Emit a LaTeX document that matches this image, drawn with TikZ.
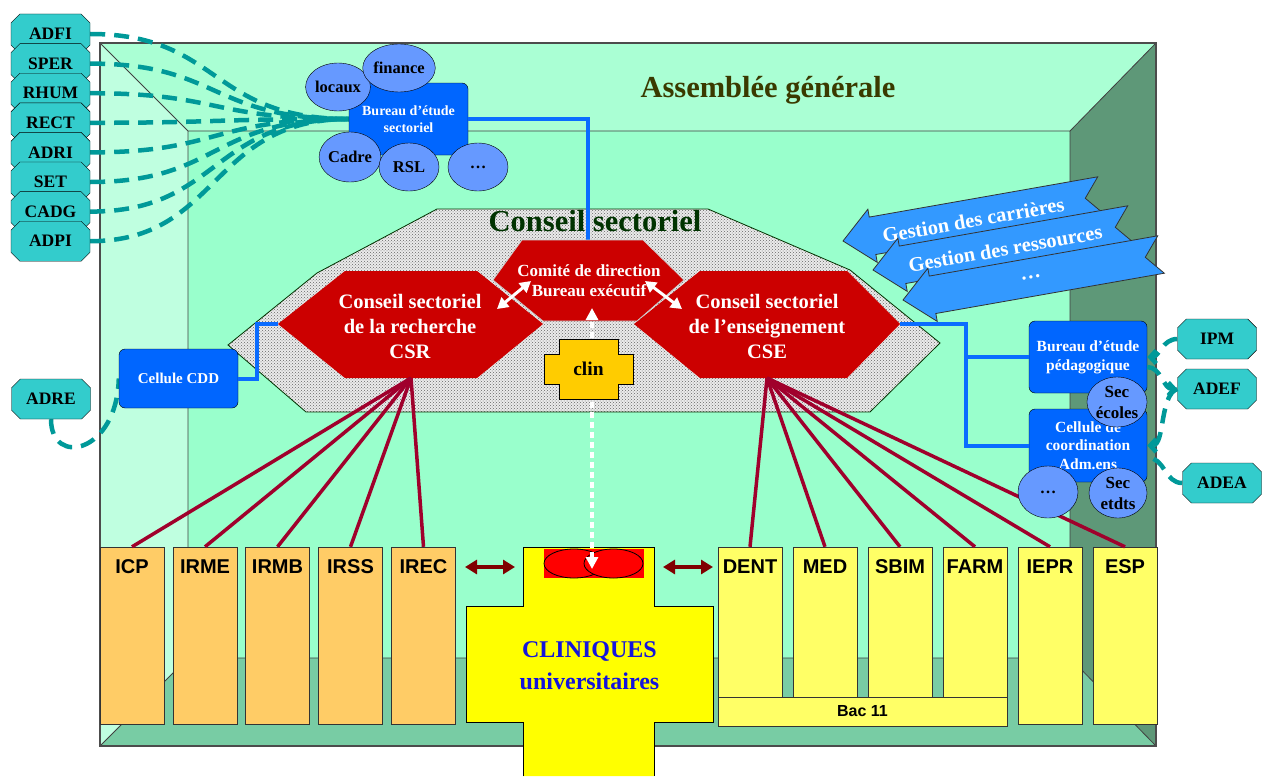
\documentclass[tikz,border=0pt]{standalone}
\usepackage{fontspec}
\setmainfont{Liberation Serif}
\newfontfamily\arialfont{Liberation Sans}
\usetikzlibrary{shapes.geometric,shapes.misc,arrows.meta,patterns}
\definecolor{ceilc}{HTML}{AAFFD4}
\definecolor{lwallc}{HTML}{BFFFE0}
\definecolor{backc}{HTML}{99FFCC}
\definecolor{floorc}{HTML}{78CCA4}
\definecolor{rwallc}{HTML}{5E9878}
\definecolor{agc}{HTML}{3A3A00}
\definecolor{csc}{HTML}{003300}
\definecolor{redc}{HTML}{CC0000}
\definecolor{bluec}{HTML}{0066FF}
\definecolor{lbluec}{HTML}{6699FF}
\definecolor{blinec}{HTML}{0A6CFF}
\definecolor{tealc}{HTML}{009999}
\definecolor{octc}{HTML}{33CCCC}
\definecolor{garc}{HTML}{3399FF}
\definecolor{crimc}{HTML}{A0002C}
\definecolor{drc}{HTML}{800000}
\definecolor{obc}{HTML}{FFCC66}
\definecolor{ybc}{HTML}{FFFF66}
\definecolor{clinc}{HTML}{FFCC00}
\definecolor{crossc}{HTML}{FFFF00}
\definecolor{cltxt}{HTML}{1414DC}
\pgfdeclarelayer{bg}
\pgfdeclarelayer{mid}
\pgfsetlayers{bg,mid,main}
\begin{document}
\begin{tikzpicture}[x=1pt,y=-1pt,
  blueline/.style={draw=blinec, line width=4pt},
  tdash/.style={draw=tealc, line width=4.5pt, dash pattern=on 15pt off 9pt},
  oct/.style={chamfered rectangle, chamfered rectangle xsep=10pt, draw=black, fill=octc,
    minimum width=79pt, minimum height=40pt, inner sep=0pt, font=\bfseries\fontsize{17.5}{17.5}\selectfont},
  bbox/.style={rectangle, rounded corners=6pt, draw=black, fill=bluec, text=white, align=center,
    inner sep=0pt, font=\bfseries\fontsize{14}{17}\selectfont},
  bell/.style={ellipse, draw=black, fill=lbluec, inner sep=0pt, minimum width=59pt, minimum height=48pt,
    align=center, font=\bfseries\fontsize{16.5}{20}\selectfont},
  whitetxt/.style={text=white, align=center, font=\bfseries\fontsize{20.5}{25}\selectfont},
  obox/.style={draw=black!80, fill=obc, minimum width=64pt, minimum height=177pt, inner sep=0pt},
  ybox/.style={draw=black!80, fill=ybc, minimum width=64pt, inner sep=0pt},
  boxlbl/.style={font=\arialfont\bfseries\fontsize{20}{20}\selectfont},
  crim/.style={draw=crimc, line width=3.5pt},
  drarr/.style={draw=drc, line width=4pt, {Triangle[length=12pt,width=14pt]}-{Triangle[length=12pt,width=14pt]}},
  warr/.style={draw=white, line width=3pt, {Triangle[length=11pt,width=12pt]}-{Triangle[length=11pt,width=12pt]}},
  garrow/.style={fill=garc, draw=black!80, line width=0.8pt},
  gtxt/.style={text=white, font=\bfseries\fontsize{20.5}{20.5}\selectfont, rotate=10},
  barb/.style={-{Straight Barb[length=6pt,width=13pt]}}
]
\useasboundingbox (0,0) rectangle (1263,776);

\begin{pgfonlayer}{bg}
\fill[ceilc] (100,43) -- (1156,43) -- (1070,131) -- (188,131) -- cycle;
\fill[lwallc] (100,43) -- (188,131) -- (188,658) -- (100,746) -- cycle;
\fill[rwallc] (1156,43) -- (1156,746) -- (1070,658) -- (1070,131) -- cycle;
\fill[floorc] (188,658) -- (1070,658) -- (1156,746) -- (100,746) -- cycle;
\fill[backc] (188,131) rectangle (1070,658);
\draw[black!75, line width=0.8pt] (188,131) rectangle (1070,658)
  (100,43) -- (188,131) (1156,43) -- (1070,131) (100,746) -- (188,658) (1156,746) -- (1070,658);
\draw[black!70, line width=1.6pt] (100,43) rectangle (1156,746);
\path[fill=black!8] (437,209) -- (708,209) -- (850,270) -- (940,343) -- (870,412) -- (306,412) -- (228,345) -- (317,273) -- cycle;
\path[pattern=crosshatch dots, pattern color=black!60] (437,209) -- (708,209) -- (850,270) -- (940,343) -- (870,412) -- (306,412) -- (228,345) -- (317,273) -- cycle;
\draw[csc, line width=0.8pt] (437,209) -- (708,209) -- (850,270) -- (940,343) -- (870,412) -- (306,412) -- (228,345) -- (317,273) -- cycle;
\end{pgfonlayer}

% titles
\node[font=\bfseries\fontsize{30.5}{36}\selectfont, text=agc] (ag) at (768,90) {Assemblée générale};
\node[font=\bfseries\fontsize{30.5}{36}\selectfont, text=csc] (cst) at (595,221) {Conseil sectoriel};

% Bureau d'etude sectoriel
\node[bbox, minimum width=119pt, minimum height=72pt] (bes) at (408.5,119) {Bureau d’étude\\sectoriel};
\node[bell] (locaux) at (338,87) {locaux};
\node[bell] (finance) at (399,68) {finance};
\node[bell, minimum width=60pt, minimum height=50pt] (cadre) at (350,157) {Cadre};
\node[bell, minimum width=60pt] (rsl) at (409,167) {RSL};
\node[bell, minimum width=60pt] (bdots) at (478,167) {…};

% coordinates of the red hexagons
\coordinate (cdtop) at (588,240);
\coordinate (csrtip) at (278,324);
\coordinate (csrb) at (411,378);
\coordinate (csetip) at (900,324);
\coordinate (cseb) at (767,378);
\draw[blueline] (bes.east) -| (cdtop);

\fill[redc] (278,324) -- (345,271) -- (477,271) -- (543,324) -- (477,378) -- (345,378) -- cycle;
\fill[redc] (634,324) -- (700,271) -- (847,271) -- (900,324) -- (847,378) -- (700,378) -- cycle;
\filldraw[fill=redc, draw=white!80!black, line width=0.7pt] (493,280) -- (522,240) -- (643,240) -- (684,280) -- (637,321) -- (543,321) -- cycle;

\node[whitetxt] (csr) at (410,326) {Conseil sectoriel\\de la recherche\\CSR};
\node[whitetxt] (cse) at (767,326) {Conseil sectoriel\\de l’enseignement\\CSE};
\node[text=white, align=center, font=\bfseries\fontsize{17}{20}\selectfont] (cdir) at (589,281) {Comité de direction\\Bureau exécutif};

\coordinate (wa1) at (497,309);
\coordinate (wa2) at (531,281);
\coordinate (wa3) at (645,281);
\coordinate (wa4) at (682,309);
\draw[warr] (wa1) -- (wa2);
\draw[warr] (wa3) -- (wa4);

% Gestion arrows
\begin{scope}[shift={(843,241)}, rotate=10]
\filldraw[garrow] (0,0) -- (30,-27) -- (30,-19) -- (262,-19) -- (246,0) -- (262,19) -- (30,19) -- (30,27) -- cycle;
\node[gtxt] (g1) at (132,2) {Gestion des carrières};
\end{scope}
\begin{scope}[shift={(873,270)}, rotate=10]
\filldraw[garrow] (0,0) -- (30,-27) -- (30,-19) -- (262,-19) -- (246,0) -- (262,19) -- (30,19) -- (30,27) -- cycle;
\node[gtxt] (g2) at (134,2) {Gestion des ressources};
\end{scope}
\begin{scope}[shift={(903,300)}, rotate=10]
\filldraw[garrow] (0,0) -- (30,-27) -- (30,-19) -- (262,-19) -- (246,0) -- (262,19) -- (30,19) -- (30,27) -- cycle;
\node[gtxt] (g3) at (130,0) {…};
\end{scope}

% side boxes
\node[bbox, minimum width=119pt, minimum height=59pt, font=\bfseries\fontsize{15}{18}\selectfont] (ccdd) at (178.5,378.5) {Cellule CDD};
\draw[blueline] (ccdd.east) -- ++(19,0) |- (csrtip);
\node[bbox, minimum width=118pt, minimum height=72pt, font=\bfseries\fontsize{15.5}{19}\selectfont] (bep) at (1088,357) {Bureau d’étude\\pédagogique};
\node[bbox, minimum width=118pt, minimum height=73pt, font=\bfseries\fontsize{15.5}{18.5}\selectfont] (cel) at (1088,445.5) {Cellule de\\coordination\\Adm.ens};
\draw[blueline] (csetip) -- ++(66,0) |- (bep.west);
\draw[blueline] (csetip) -- ++(66,0) |- (cel.west);
\node[bell, minimum width=58pt, minimum height=50pt, font=\bfseries\fontsize{17}{21}\selectfont] (secec) at (1117,402) {Sec\\écoles};

% bottom boxes
\node[obox] (icp) at (132,635.5) {};
\node[obox] (irme) at (205,635.5) {};
\node[obox] (irmb) at (277.5,635.5) {};
\node[obox] (irss) at (350.5,635.5) {};
\node[obox] (irec) at (423.5,635.5) {};
\node[ybox, minimum height=150pt] (dent) at (750,622) {};
\node[ybox, minimum height=150pt] (med) at (825,622) {};
\node[ybox, minimum height=150pt] (sbim) at (900,622) {};
\node[ybox, minimum height=150pt] (farm) at (975,622) {};
\node[ybox, minimum height=177pt] (iepr) at (1050,635.5) {};
\node[ybox, minimum height=177pt] (esp) at (1125,635.5) {};
\node[ybox, minimum width=289pt, minimum height=29pt, font=\arialfont\bfseries\fontsize{16}{16}\selectfont] (bac) at (862.5,711.5) {Bac 11};
\node[boxlbl] (icpL) at (132,567) {ICP};
\node[boxlbl] (irmeL) at (205,567) {IRME};
\node[boxlbl] (irmbL) at (277.5,567) {IRMB};
\node[boxlbl] (irssL) at (350.5,567) {IRSS};
\node[boxlbl] (irecL) at (423.5,567) {IREC};
\node[boxlbl] (dentL) at (750,567) {DENT};
\node[boxlbl] (medL) at (825,567) {MED};
\node[boxlbl] (sbimL) at (900,567) {SBIM};
\node[boxlbl] (farmL) at (975,567) {FARM};
\node[boxlbl] (ieprL) at (1050,567) {IEPR};
\node[boxlbl] (espL) at (1125,567) {ESP};

% red fan lines
\foreach \b in {icp,irme,irmb,irss,irec} \draw[crim] (csrb) -- (\b.north);
\foreach \b in {dent,med,sbim,farm,iepr,esp} \draw[crim] (cseb) -- (\b.north);

\node[bell, minimum width=60pt, minimum height=52pt] (cdots) at (1048,492) {…};
\node[bell, minimum width=58pt, minimum height=50pt, font=\bfseries\fontsize{17}{21}\selectfont] (secet) at (1118,493) {Sec\\etdts};

% cliniques cross
\fill[crossc] (523,547) -- (654,547) -- (654,606) -- (713,606) -- (713,722) -- (654,722) -- (654,776) -- (523,776) -- (523,722) -- (466,722) -- (466,606) -- (523,606) -- cycle;
\draw[black, line width=0.9pt] (523,776) -- (523,722) -- (466,722) -- (466,606) -- (523,606) -- (523,547) -- (654,547) -- (654,606) -- (713,606) -- (713,722) -- (654,722) -- (654,776);
\fill[red] (544,549) rectangle (644,578);
\filldraw[fill=red, draw=black, line width=0.8pt] (574,563.5) ellipse [x radius=30pt, y radius=14.5pt];
\filldraw[fill=red, draw=black, line width=0.8pt] (613.5,563.5) ellipse [x radius=29.5pt, y radius=14.5pt];
\node[text=cltxt, align=center, font=\bfseries\fontsize{24}{32}\selectfont] (clinu) at (589.5,666) {CLINIQUES\\universitaires};

\coordinate (la1) at (465,567);
\coordinate (la2) at (515,567);
\coordinate (ra1) at (663,567);
\coordinate (ra2) at (713,567);
\draw[drarr] (la1) -- (la2);
\draw[drarr] (ra1) -- (ra2);

% dotted white arrow
\coordinate (dtop) at (592,308);
\coordinate (dbot) at (592,569);
\draw[white, line width=3.5pt, dash pattern=on 6pt off 4pt, {Triangle[length=12pt,width=12pt]}-{Triangle[length=12pt,width=12pt]}] (dbot) -- (dtop);

% clin
\filldraw[fill=clinc, draw=black, line width=0.9pt] (559,339) -- (618,339) -- (618,354) -- (633,354) -- (633,384) -- (618,384) -- (618,399) -- (559,399) -- (559,384) -- (544,384) -- (544,354) -- (559,354) -- cycle;
\node[font=\bfseries\fontsize{19.5}{19.5}\selectfont] (clin) at (588.5,369) {clin};

% octagons
\foreach \nm/\lab [count=\i from 0] in {adfi/ADFI,sper/SPER,rhum/RHUM,rect/RECT,adri/ADRI,set/SET,cadg/CADG,adpi/ADPI}
  \node[oct] (\nm) at (50.5,{34+29.6*\i}) {\lab};
\node[oct] (adre) at (51,399) {ADRE};
\node[oct] (ipm) at (1217,339) {IPM};
\node[oct] (adef) at (1217,389) {ADEF};
\node[oct] (adea) at (1222,483) {ADEA};

\begin{pgfonlayer}{mid}
\foreach \nm in {adfi,sper,rhum,rect,adri,set,cadg,adpi}
  \draw[tdash] (\nm.east) .. controls +(130,0) and +(-139,0) .. (bes.west);
\draw[tdash] (adre.south) .. controls +(0,48) and +(-2,75) .. (ccdd.west);
\end{pgfonlayer}
\draw[tdash, barb] (ipm.west) .. controls +(-15,0) and +(12,0) .. (bep.east);
\draw[tdash, barb] ([yshift=-10pt]bep.east) .. controls +(14,0) and +(-14,0) .. (adef.west);
\draw[tdash, barb] (adef.west) .. controls +(-18,6) and +(18,0) .. (cel.east);
\draw[tdash] (adea.west) .. controls +(-18,0) and +(18,0) .. ([yshift=-12pt]cel.east);
\end{tikzpicture}
\end{document}
